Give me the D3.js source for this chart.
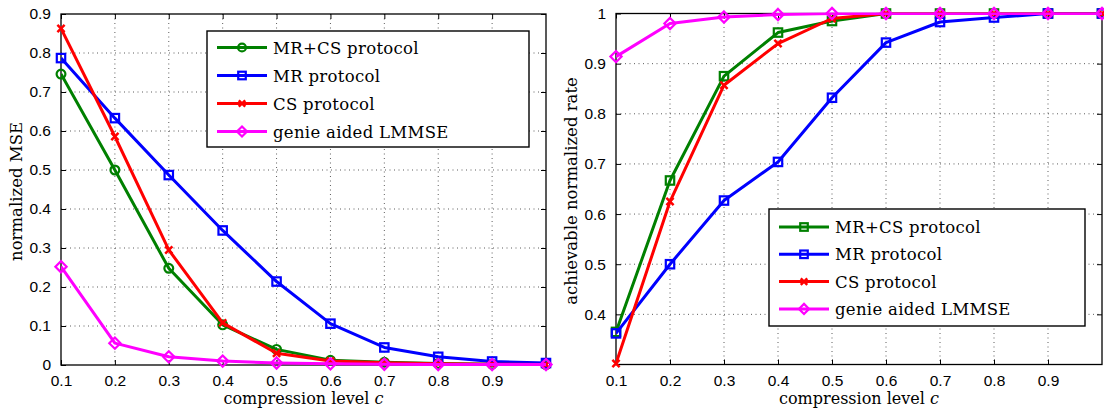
<!DOCTYPE html>
<html>
<head>
<meta charset="utf-8">
<script src="https://cdn.jsdelivr.net/npm/d3@7"></script>
<style>
  html, body { margin: 0; padding: 0; background: #fff; }
  svg { display: block; }
</style>
</head>
<body>
<svg id="chart" width="1104" height="410"></svg>
<script>
// Compression levels evaluated
const compression = [0.1, 0.2, 0.3, 0.4, 0.5, 0.6, 0.7, 0.8, 0.9, 1.0];
const xTickValues = [0.1, 0.2, 0.3, 0.4, 0.5, 0.6, 0.7, 0.8, 0.9];

// Normalized MSE per protocol
const mseMRCS  = [0.746, 0.500, 0.248, 0.103, 0.040, 0.012, 0.007, 0.004, 0.002, 0.001];
const mseMR    = [0.787, 0.633, 0.487, 0.345, 0.214, 0.106, 0.045, 0.021, 0.009, 0.005];
const mseCS    = [0.863, 0.586, 0.295, 0.108, 0.030, 0.010, 0.006, 0.003, 0.002, 0.001];
const mseGenie = [0.252, 0.056, 0.021, 0.010, 0.005, 0.003, 0.002, 0.001, 0.001, 0.001];
const mseTicks = [0, 0.1, 0.2, 0.3, 0.4, 0.5, 0.6, 0.7, 0.8, 0.9];
const mseTickLabels = ["0", "0.1", "0.2", "0.3", "0.4", "0.5", "0.6", "0.7", "0.8", "0.9"];

// Achievable normalized rate per protocol
const rateMRCS  = [0.365, 0.667, 0.875, 0.962, 0.985, 1.0, 1.0, 1.0, 1.0, 1.0];
const rateMR    = [0.362, 0.500, 0.627, 0.704, 0.832, 0.942, 0.983, 0.992, 1.0, 1.0];
const rateCS    = [0.302, 0.625, 0.857, 0.940, 0.990, 1.0, 1.0, 1.0, 1.0, 1.0];
const rateGenie = [0.914, 0.980, 0.993, 0.998, 1.0, 1.0, 1.0, 1.0, 1.0, 1.0];
const rateTicks = [0.4, 0.5, 0.6, 0.7, 0.8, 0.9, 1.0];
const rateTickLabels = ["0.4", "0.5", "0.6", "0.7", "0.8", "0.9", "1"];

const seriesNames = ["MR+CS protocol", "MR protocol", "CS protocol", "genie aided LMMSE"];
const seriesColors = ["#008000", "#0000ff", "#ff0000", "#ff00ff"];

const SANS = "'Liberation Sans', Arial, Helvetica, sans-serif";
const SERIF = "'DejaVu Serif', 'Liberation Serif', serif";

const svg = d3.select("#chart");

function serifText(sel, size, spacing) {
  return sel.attr("font-family", SERIF).attr("font-size", size)
    .attr("letter-spacing", spacing || 0).attr("fill", "#000");
}

// Draw a MATLAB-style marker centred at the origin of group g
function marker(g, type, color, s) {
  const sw = 2.2;
  if (type === "circle") {
    g.append("circle").attr("r", 4.4 * s).attr("fill", "none").attr("stroke", color).attr("stroke-width", sw);
  } else if (type === "square") {
    const h = 4.2 * s;
    g.append("rect").attr("x", -h).attr("y", -h).attr("width", 2 * h).attr("height", 2 * h)
      .attr("fill", "none").attr("stroke", color).attr("stroke-width", sw);
  } else if (type === "diamond") {
    const h = 5.6 * s;
    g.append("path").attr("d", `M0,${-h}L${h},0L0,${h}L${-h},0Z`)
      .attr("fill", "none").attr("stroke", color).attr("stroke-width", sw);
  } else if (type === "x") {
    const h = 3.6 * s;
    g.append("path").attr("d", `M${-h},${-h}L${h},${h}M${-h},${h}L${h},${-h}`)
      .attr("fill", "none").attr("stroke", color).attr("stroke-width", 2.5);
  }
}

function panel(cfg) {
  const { left, right, top, bottom, yDomain, yTicks, yTickLabels, series, markers, yLabel, legend } = cfg;
  const x = d3.scaleLinear().domain([0.1, 1.0]).range([left, right]);
  const y = d3.scaleLinear().domain(yDomain).range([bottom, top]);
  const g = svg.append("g");

  // dotted grid
  const grid = g.append("g").attr("stroke", "#333").attr("stroke-width", 0.8).attr("stroke-dasharray", "1,3.5");
  xTickValues.filter(v => v > 0.1 + 1e-9).forEach(v => {
    grid.append("line").attr("x1", x(v)).attr("x2", x(v)).attr("y1", top).attr("y2", bottom);
  });
  yTicks.filter(v => y(v) > top + 1 && y(v) < bottom - 1).forEach(v => {
    grid.append("line").attr("x1", left).attr("x2", right).attr("y1", y(v)).attr("y2", y(v));
  });

  // axes: bottom/left with labels, top/right with inward ticks only
  const tl = 5;
  const axB = d3.axisBottom(x).tickValues(xTickValues).tickSize(-tl).tickPadding(10).tickFormat(d3.format(".1f"));
  const axT = d3.axisTop(x).tickValues(xTickValues).tickSize(-tl).tickFormat("");
  const axL = d3.axisLeft(y).tickValues(yTicks).tickSize(-tl).tickPadding(10).tickFormat((d, i) => yTickLabels[i]);
  const axR = d3.axisRight(y).tickValues(yTicks).tickSize(-tl).tickFormat("");
  [[axB, `translate(0,${bottom})`], [axT, `translate(0,${top})`], [axL, `translate(${left},0)`], [axR, `translate(${right},0)`]]
    .forEach(([ax, tr]) => {
      const a = g.append("g").attr("transform", tr).call(ax)
        .attr("font-family", SANS).attr("font-size", 15.5);
      a.select(".domain").remove();
      a.selectAll("line").attr("stroke", "#000").attr("stroke-width", 1);
      a.selectAll("text").attr("fill", "#000");
    });
  g.append("rect").attr("x", left).attr("y", top).attr("width", right - left).attr("height", bottom - top)
    .attr("fill", "none").attr("stroke", "#000").attr("stroke-width", 1.3);

  // series lines and markers
  const clipId = "clip" + left;
  svg.append("clipPath").attr("id", clipId).append("rect")
    .attr("x", left).attr("y", top - 1).attr("width", right - left).attr("height", bottom - top + 2);
  const line = d3.line().x((d, i) => x(compression[i])).y(d => y(d));
  series.forEach((vals, k) => {
    g.append("path").datum(vals).attr("d", line).attr("clip-path", `url(#${clipId})`)
      .attr("fill", "none").attr("stroke", seriesColors[k]).attr("stroke-width", 3).attr("stroke-linejoin", "round");
    vals.forEach((v, i) => {
      marker(g.append("g").attr("transform", `translate(${x(compression[i])},${y(v)})`), markers[k], seriesColors[k], 1);
    });
  });

  // axis titles
  const xl = serifText(g.append("text"), 16).attr("x", (left + right) / 2).attr("y", 404).attr("text-anchor", "middle");
  xl.append("tspan").text("compression level ");
  xl.append("tspan").attr("font-style", "italic").text("c");
  serifText(g.append("text"), 16.5).attr("text-anchor", "middle")
    .attr("transform", `translate(${left - 39},${(top + bottom) / 2 + 2}) rotate(-90)`).text(yLabel);

  // legend
  const lg = g.append("g");
  lg.append("rect").attr("x", legend.x).attr("y", legend.y).attr("width", legend.w).attr("height", legend.h)
    .attr("fill", "#fff").attr("stroke", "#000").attr("stroke-width", 1.4);
  seriesNames.forEach((name, k) => {
    const cy = legend.y + legend.first + k * legend.step;
    lg.append("line").attr("x1", legend.x + 10).attr("x2", legend.x + 60).attr("y1", cy).attr("y2", cy)
      .attr("stroke", seriesColors[k]).attr("stroke-width", 3);
    marker(lg.append("g").attr("transform", `translate(${legend.x + 35},${cy})`), markers[k], seriesColors[k], 0.9);
    serifText(lg.append("text"), 16.5, 0.3).attr("x", legend.x + 66).attr("y", cy + 6).text(name);
  });
}

panel({
  left: 61, right: 546, top: 14, bottom: 365,
  yDomain: [0, 0.9], yTicks: mseTicks, yTickLabels: mseTickLabels,
  series: [mseMRCS, mseMR, mseCS, mseGenie],
  markers: ["circle", "square", "x", "diamond"],
  yLabel: "normalized MSE",
  legend: { x: 207, y: 31, w: 322, h: 116, first: 16.5, step: 28 }
});

panel({
  left: 616, right: 1102, top: 13.5, bottom: 364.5,
  yDomain: [0.3, 1.0], yTicks: rateTicks, yTickLabels: rateTickLabels,
  series: [rateMRCS, rateMR, rateCS, rateGenie],
  markers: ["square", "square", "x", "diamond"],
  yLabel: "achievable normalized rate",
  legend: { x: 769, y: 209, w: 316, h: 117, first: 18, step: 27.3 }
});
</script>
</body>
</html>
